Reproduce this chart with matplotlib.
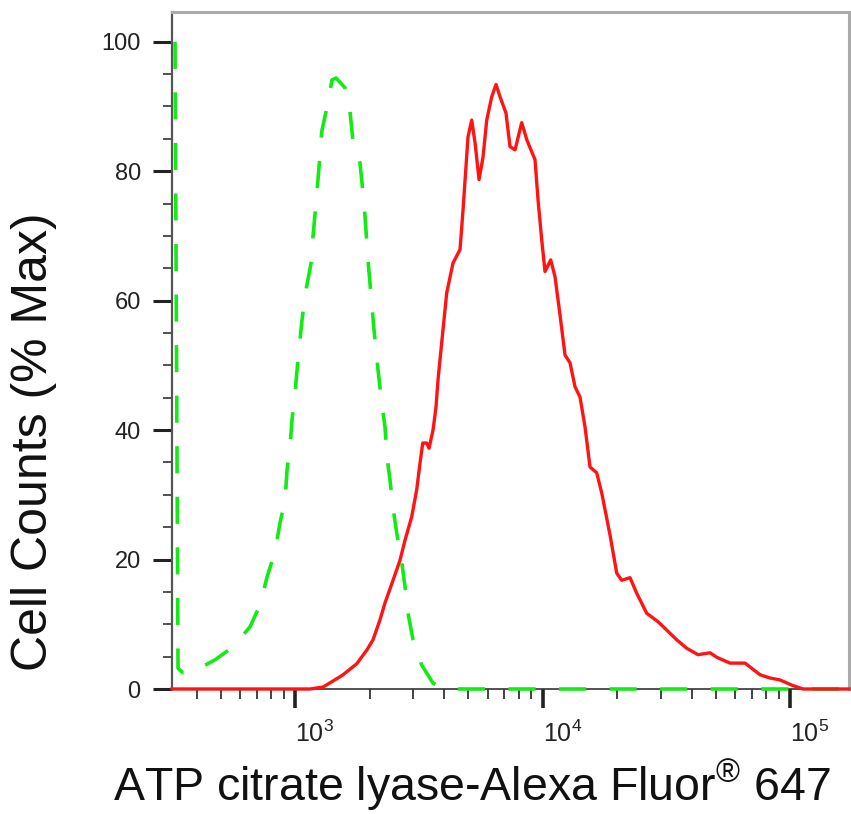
import matplotlib
matplotlib.use('Agg')
import matplotlib.pyplot as plt
from matplotlib.ticker import LogLocator, FixedLocator, NullFormatter, LogFormatterMathtext

plt.rcParams['font.family'] = ['Liberation Sans', 'DejaVu Sans']
plt.rcParams['mathtext.fontset'] = 'custom'
plt.rcParams['mathtext.rm'] = 'Liberation Sans'
plt.rcParams['mathtext.it'] = 'Liberation Sans:italic'
plt.rcParams['mathtext.bf'] = 'Liberation Sans:bold'
plt.rcParams['mathtext.default'] = 'regular'

# Isotype control (green dashed)
iso_x = [327.5, 336.8, 352.9, 383.6, 475.1, 561.8, 658.0, 722.2, 770.8, 830.4,
         869.9, 911.4, 928.5, 954.6, 972.5, 1000, 1028, 1067, 1108, 1168,
         1182, 1212, 1235, 1262, 1282, 1359, 1411, 1465, 1592, 1668,
         1716, 1830, 1882, 1918, 1972, 2085, 2165, 2240, 2310, 2353,
         2420, 2489, 2576, 2699, 2783, 2862, 2998, 3250, 3611, 4037, 173100]
iso_y = [100, 3.2, 2.5, 2.6, 4.5, 6.5, 9.6, 13.0, 17.3, 21.2,
         25.7, 29.2, 33.8, 37.4, 41.6, 45.7, 50.9, 57.0, 61.7, 66.3,
         69.9, 74.5, 78.2, 82.5, 86.1, 90.6, 94.1, 94.4, 92.9, 89.2,
         84.5, 81.3, 76.7, 73.0, 66.3, 55.5, 49.3, 44.2, 40.5, 35.9,
         32.3, 28.0, 24.1, 19.6, 15.8, 11.7, 7.6, 3.7, 0.9, 0, 0]

# ATP citrate lyase stained sample (red solid)
sample_x = [318.4, 1150, 1298, 1520, 1563, 1776, 1949, 2066, 2205, 2310,
            2489, 2656, 2783, 2961, 3102, 3199, 3281, 3405, 3479, 3611,
            3713, 3783, 3914, 4101, 4348, 4642, 4773, 5000, 5175, 5338,
            5540, 5750, 5951, 6234, 6489, 6735, 7118, 7389, 7743, 8241,
            8633, 9044, 9325, 9590, 9926, 10235, 10792, 11233, 11767, 12328,
            12915, 13530, 14174, 14849, 15556, 16557, 17346, 18738, 19944, 20893,
            22570, 24021, 26363, 29290, 31764, 34843, 38236, 42486, 47514, 50558,
            57222, 65809, 68936, 75656, 83027, 91116, 101600, 112850, 173100]
sample_y = [0, 0, 0.3, 1.9, 2.2, 3.9, 6.0, 7.6, 10.7, 13.3,
            16.8, 19.9, 23.0, 26.6, 30.8, 34.9, 38.0, 38.0, 37.2, 40.0,
            43.6, 47.8, 53.5, 61.2, 65.8, 67.9, 74.0, 85.3, 87.9, 84.4,
            78.7, 82.2, 87.9, 91.5, 93.4, 91.5, 89.0, 83.8, 83.3, 87.5,
            84.9, 83.0, 81.8, 75.6, 69.4, 64.5, 66.3, 63.7, 57.8, 51.6,
            50.4, 46.7, 45.1, 40.5, 34.3, 33.4, 30.3, 23.8, 17.9, 16.8,
            17.2, 14.8, 11.7, 10.4, 9.1, 7.6, 6.3, 5.3, 5.6, 4.9,
            4.0, 4.0, 3.4, 2.2, 1.7, 1.4, 0.6, 0, 0]

y_major = [0, 20, 40, 60, 80, 100]
y_minor = [5, 10, 15, 25, 30, 35, 45, 50, 55, 65, 70, 75, 85, 90, 95]
x_label = 'ATP citrate lyase-Alexa Fluor$^{®}$ 647'
y_label = 'Cell Counts (% Max)'

W, H = 851, 814
fig = plt.figure(figsize=(W / 100, H / 100), dpi=100)
ax = fig.add_axes([172 / W, 1 - 689 / H, (849 - 172) / W, (689 - 12) / H])

ax.plot(iso_x, iso_y, color='#14ea14', lw=2.6, linestyle=(0, (7.5, 6.5)),
        dash_capstyle='butt', zorder=3, clip_on=False)
ax.plot(sample_x, sample_y, color='#ff1414', lw=2.4, zorder=4, clip_on=False)

ax.set_xscale('log')
ax.set_xlim(318.4, 173100)
ax.set_ylim(0, 104.6)

ax.yaxis.set_major_locator(FixedLocator(y_major))
ax.yaxis.set_minor_locator(FixedLocator(y_minor))
ax.xaxis.set_major_locator(LogLocator(base=10, numticks=10))
ax.xaxis.set_major_formatter(LogFormatterMathtext())
ax.xaxis.set_minor_locator(LogLocator(base=10, subs=range(2, 10), numticks=20))
ax.xaxis.set_minor_formatter(NullFormatter())

tick_col = '#222222'
ax.tick_params(axis='y', which='major', length=13.5, width=2.2, direction='out',
               color=tick_col, pad=9, labelsize=17, labelcolor='#222222')
ax.tick_params(axis='y', which='minor', length=6.5, width=1.1, direction='out',
               color=tick_col)
ax.tick_params(axis='x', which='major', length=13.5, width=2.6, direction='out',
               color=tick_col, pad=9, labelsize=18, labelcolor='#222222')
ax.tick_params(axis='x', which='minor', length=7.5, width=1.2, direction='out',
               color=tick_col)
for lab in ax.get_xticklabels():
    lab.set_horizontalalignment('left')

ax.spines['top'].set_color('#aaaaaa')
ax.spines['top'].set_linewidth(2.2)
ax.spines['right'].set_color('#aaaaaa')
ax.spines['right'].set_linewidth(2.2)
ax.spines['left'].set_color('#555555')
ax.spines['left'].set_linewidth(1.6)
ax.spines['bottom'].set_color('#333333')
ax.spines['bottom'].set_linewidth(1.2)

fig.text(472 / W, 1 - 801 / H, x_label, ha='center', va='baseline',
         fontsize=33.5, color='#111111')
fig.text(34 / W, 1 - 442 / H, y_label, ha='center', va='center', rotation=90,
         fontsize=36, color='#111111')

fig.savefig('out.png', dpi=100)
